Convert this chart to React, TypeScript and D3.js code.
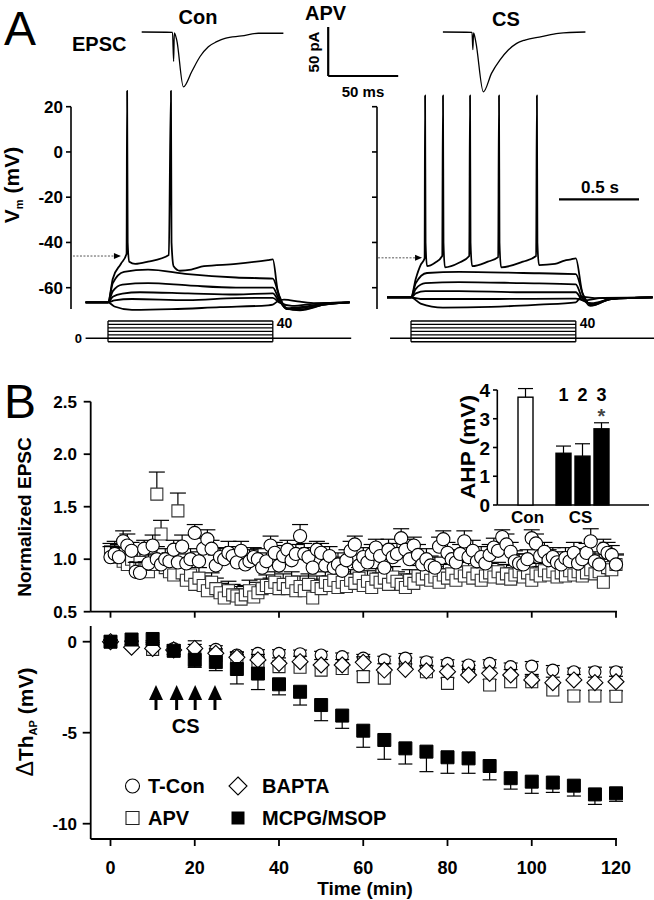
import React from "react";
import * as d3 from "d3";

const FONT = "'Liberation Sans', Arial, Helvetica, sans-serif";

// ---------- Panel A: EPSC traces (time ms, current pA relative to baseline) ----------
const epscConTime = [0, 22, 22.8, 23.3, 25, 29.8, 35.7, 41.7, 47.6, 53.6, 59.5, 71.4, 83.3, 101.2];
const epscConAmp = [0, -0.3, -30, -1, -8, -56, -40.5, -25, -15, -9.9, -6.4, -4, -1.3, -1.3];
const epscCsTime = [0, 20.8, 21.4, 21.9, 23.5, 28.9, 34.8, 40.8, 46.7, 52.7, 58.6, 70.5, 82.4, 101.8];
const epscCsAmp = [0, -0.3, -18, -1, -10, -61, -42, -28.5, -18.4, -11.6, -8.2, -4.8, -1.3, 0];

// ---------- Panel A: membrane potential traces [time ms, mV] ----------
const vmTicks = [20, 0, -20, -40, -60];
const conTraces: number[][][] = [
  [[-140, -66.5], [0, -66.5], [40, -68.3], [150, -69.8], [400, -69.5], [700, -68.6], [1000, -67.8], [1030, -67.5], [1060, -66], [1100, -65.3], [1200, -66.2], [1300, -66.8], [1510, -66.5]],
  [[-140, -66.5], [0, -66.5], [40, -65.6], [150, -65], [500, -65.5], [800, -64.6], [1030, -64.5], [1070, -66.5], [1150, -68], [1300, -67], [1510, -66.5]],
  [[-140, -66.5], [0, -66.5], [30, -64], [90, -62.6], [200, -62], [500, -62.5], [800, -63], [1030, -62.5], [1065, -65.5], [1120, -69], [1200, -68.6], [1350, -67], [1510, -66.5]],
  [[-140, -66.5], [0, -66.5], [30, -61.5], [90, -58.6], [250, -58], [500, -59], [800, -60], [1030, -60], [1065, -64.5], [1120, -69.5], [1200, -69], [1350, -67.5], [1510, -66.5]],
  [[-140, -66.5], [0, -66.5], [30, -58], [100, -53], [250, -52], [500, -54], [800, -55.5], [1030, -56], [1070, -63.5], [1120, -69.5], [1200, -69.6], [1350, -67.5], [1510, -66.5]],
  [[-140, -66.5], [0, -66.5], [30, -56], [80, -49.5], [116, -45], [119.5, 27], [123, -40], [133, -48.5], [170, -49.5], [250, -48.5], [380, -45.5], [393.5, 27], [397, -40], [410, -50.5], [450, -52.5], [520, -52], [600, -50.5], [800, -49.5], [1000, -47.8], [1030, -47.5], [1060, -61], [1110, -69], [1200, -70], [1350, -67.5], [1510, -66.5]],
];
const csTraces: number[][][] = [
  [[-150, -64.3], [0, -64.3], [60, -67], [200, -68.8], [500, -68.5], [800, -67.5], [1030, -66.5], [1065, -64], [1150, -64.6], [1510, -64.3]],
  [[-150, -64.3], [0, -64.3], [60, -65], [500, -65], [1030, -64.8], [1080, -65.6], [1200, -64.5], [1510, -64.3]],
  [[-150, -64.3], [0, -64.3], [30, -62.5], [90, -61.5], [300, -61.5], [700, -62], [1030, -62], [1070, -65.5], [1130, -66.8], [1250, -65], [1510, -64.3]],
  [[-150, -64.3], [0, -64.3], [30, -60.5], [90, -58], [300, -57.5], [700, -58], [1030, -58.5], [1070, -64.5], [1130, -67.2], [1250, -65], [1510, -64.3]],
  [[-150, -64.3], [0, -64.3], [30, -58], [100, -53.5], [300, -53], [700, -53.5], [1030, -54], [1075, -63], [1130, -67.8], [1250, -65], [1510, -64.3]],
  [[-150, -64.3], [0, -64.3], [30, -56], [60, -50], [85, -47], [88, 25], [91, -40], [100, -50.5], [150, -49], [195, -46], [200, 25], [203, -40], [212, -51], [300, -49], [364, -46], [369, 25], [372, -40], [382, -50.5], [480, -48.5], [545, -46.5], [550, 25], [553, -40], [563, -51], [700, -48.5], [782, -46], [787, 25], [790, -40], [800, -50], [900, -49.5], [960, -48], [1000, -47.5], [1030, -47], [1070, -62], [1120, -68], [1250, -65], [1510, -64.3]],
];
const thresholdArrowCon = [-219, 81, -46];
const thresholdArrowCs = [-206, 69, -46.8];
const stimLevels = [-8, 0, 8, 16, 24, 32, 40];
const stimDuration = 1030;

// ---------- Panel B top: normalized EPSC (per minute) ----------
const epscMinutes = d3.range(0, 121);
const tconEpsc = [
  1.02, 1.05, 1.02, 1.17, 1.13, 1.08, 0.88, 0.87, 1.10, 0.96,
  1.13, 1.00, 0.95, 1.00, 0.98, 1.09, 0.97, 1.12, 0.96, 1.00,
  1.25, 0.98, 1.10, 1.19, 1.10, 0.94, 1.02, 1.00, 1.06, 1.03,
  0.97, 1.08, 0.95, 0.98, 1.02, 1.00, 0.92, 0.98, 1.13, 1.06,
  0.94, 1.03, 1.09, 0.99, 1.05, 1.22, 1.05, 1.02, 0.92, 1.09,
  1.06, 0.94, 1.03, 0.92, 0.95, 0.89, 0.99, 1.08, 1.14, 0.94,
  1.02, 0.97, 1.05, 1.11, 1.03, 0.92, 1.09, 1.02, 1.05, 1.20,
  1.09, 1.00, 1.13, 1.04, 0.95, 1.00, 0.94, 0.92, 1.12, 1.19,
  1.06, 1.00, 0.97, 1.05, 1.17, 1.02, 1.08, 0.98, 1.02, 0.96,
  1.04, 1.11, 1.08, 1.21, 1.14, 1.07, 0.98, 0.96, 0.95, 1.00,
  1.20, 1.15, 1.03, 1.07, 0.99, 1.02, 0.97, 0.95, 1.01, 0.98,
  1.06, 0.96, 1.00, 1.06, 1.17, 0.98, 0.95, 1.10, 1.06, 1.04,
  0.95,
];
const tconEpscErr = [
  0.10, 0.12, 0.09, 0.10, 0.11, 0.08, 0.09, 0.10, 0.08, 0.09,
  0.10, 0.12, 0.09, 0.10, 0.08, 0.09, 0.10, 0.11, 0.09, 0.10,
  0.08, 0.09, 0.10, 0.09, 0.08, 0.10, 0.09, 0.10, 0.11, 0.09,
  0.10, 0.09, 0.10, 0.11, 0.09, 0.10, 0.09, 0.08, 0.09, 0.10,
  0.09, 0.10, 0.09, 0.10, 0.09, 0.11, 0.10, 0.09, 0.10, 0.08,
  0.09, 0.10, 0.09, 0.10, 0.11, 0.09, 0.10, 0.09, 0.08, 0.10,
  0.09, 0.10, 0.09, 0.08, 0.10, 0.09, 0.10, 0.09, 0.10, 0.09,
  0.10, 0.09, 0.08, 0.10, 0.09, 0.10, 0.09, 0.10, 0.09, 0.08,
  0.10, 0.09, 0.10, 0.09, 0.10, 0.09, 0.10, 0.09, 0.10, 0.09,
  0.10, 0.09, 0.08, 0.07, 0.10, 0.09, 0.10, 0.09, 0.10, 0.09,
  0.08, 0.09, 0.10, 0.09, 0.10, 0.09, 0.10, 0.09, 0.10, 0.09,
  0.10, 0.09, 0.10, 0.09, 0.12, 0.09, 0.10, 0.09, 0.10, 0.09,
  0.10,
];
const apvEpsc = [
  1.07, 1.02, 1.05, 0.98, 0.95, 1.00, 0.92, 0.97, 0.92, 0.88,
  0.95, 1.62, 1.24, 0.92, 0.88, 0.85, 1.46, 0.87, 0.80, 0.85,
  0.76, 0.82, 0.75, 0.70, 0.78, 0.72, 0.68, 0.63, 0.70, 0.66,
  0.65, 0.62, 0.66, 0.70, 0.64, 0.68, 0.72, 0.75, 0.73, 0.78,
  0.72, 0.76, 0.72, 0.78, 0.70, 0.74, 0.70, 0.76, 0.63, 0.74,
  0.72, 0.78, 0.75, 0.80, 0.73, 0.78, 0.74, 0.80, 0.77, 0.82,
  0.75, 0.79, 0.73, 0.81, 0.78, 0.82, 0.76, 0.83, 0.79, 0.76,
  0.73, 0.80, 0.77, 0.84, 0.81, 0.86, 0.80, 0.83, 0.78, 0.85,
  0.82, 0.86, 0.80, 0.87, 0.84, 0.88, 0.82, 0.86, 0.80, 0.84,
  0.87, 0.83, 0.88, 0.82, 0.86, 0.81, 0.85, 0.88, 0.83, 0.87,
  0.80, 0.86, 0.84, 0.89, 0.85, 0.88, 0.83, 0.87, 0.84, 0.89,
  0.85, 0.88, 0.84, 0.87, 0.90, 0.86, 0.88, 0.78, 0.92, 0.90,
  0.95,
];
const apvEpscErr = [
  0.08, 0.10, 0.09, 0.10, 0.09, 0.10, 0.09, 0.10, 0.09, 0.10,
  0.09, 0.21, 0.13, 0.10, 0.09, 0.10, 0.17, 0.10, 0.09, 0.10,
  0.09, 0.10, 0.09, 0.10, 0.09, 0.10, 0.09, 0.10, 0.09, 0.10,
  0.09, 0.10, 0.09, 0.10, 0.09, 0.10, 0.09, 0.10, 0.09, 0.10,
  0.09, 0.10, 0.09, 0.10, 0.09, 0.10, 0.09, 0.10, 0.09, 0.10,
  0.09, 0.10, 0.09, 0.10, 0.09, 0.10, 0.09, 0.10, 0.09, 0.10,
  0.09, 0.10, 0.09, 0.10, 0.09, 0.10, 0.09, 0.10, 0.09, 0.10,
  0.09, 0.10, 0.09, 0.10, 0.09, 0.10, 0.09, 0.10, 0.09, 0.10,
  0.09, 0.10, 0.09, 0.10, 0.09, 0.10, 0.09, 0.10, 0.09, 0.10,
  0.09, 0.10, 0.09, 0.10, 0.09, 0.10, 0.09, 0.10, 0.09, 0.10,
  0.09, 0.10, 0.09, 0.10, 0.09, 0.10, 0.09, 0.10, 0.09, 0.10,
  0.09, 0.10, 0.09, 0.10, 0.09, 0.10, 0.09, 0.10, 0.09, 0.10,
  0.09,
];
const epscTicks = [0.5, 1.0, 1.5, 2.0, 2.5];

// ---------- Panel B inset: AHP ----------
const ahpSlots = ["Con", "gap", "1", "2", "3"];
const ahpGroups = ["Con", "1", "2", "3"];
const ahpValues = [3.75, 1.8, 1.7, 2.65];
const ahpErr = [0.3, 0.25, 0.43, 0.21];
const ahpTicks = [0, 1, 2, 3, 4];

// ---------- Panel B bottom: change in AP threshold (every 5 min) ----------
const thTime = [0, 5, 10, 15, 20, 25, 30, 35, 40, 45, 50, 55, 60, 65, 70, 75, 80, 85, 90, 95, 100, 105, 110, 115, 120];
const tconTh = [0, -0.05, -0.2, -0.37, -0.4, -0.42, -0.73, -0.64, -0.64, -0.66, -0.73, -0.82, -0.9, -1.0, -0.9, -1.1, -1.19, -1.28, -1.19, -1.37, -1.34, -1.56, -1.65, -1.65, -1.65];
const tconThErr = [0.1, 0.1, 0.15, 0.2, 0.25, 0.2, 0.15, 0.2, 0.2, 0.2, 0.2, 0.2, 0.2, 0.2, 0.25, 0.25, 0.2, 0.2, 0.2, 0.2, 0.25, 0.25, 0.2, 0.25, 0.25];
const baptaTh = [0, -0.3, -0.37, -0.45, -0.37, -0.64, -0.86, -1.0, -1.19, -1.1, -1.28, -1.28, -1.13, -1.56, -1.52, -1.6, -1.65, -1.83, -1.74, -1.83, -2.1, -2.25, -2.1, -2.25, -2.2];
const baptaThErr = [0.1, 0.15, 0.2, 0.2, 0.42, 0.25, 0.3, 0.3, 0.3, 0.3, 0.3, 0.3, 0.3, 0.35, 0.3, 0.3, 0.3, 0.3, 0.3, 0.3, 0.3, 0.3, 0.3, 0.3, 0.3];
const apvTh = [0, -0.1, -0.42, -0.5, -0.6, -0.75, -0.9, -1.1, -1.37, -1.4, -1.56, -1.47, -1.92, -2.0, -1.2, -1.65, -2.29, -1.6, -2.38, -2.2, -2.2, -2.65, -2.98, -2.98, -3.0];
const apvThErr = [0.1, 0.1, 0.15, 0.2, 0.2, 0.2, 0.2, 0.25, 0.25, 0.25, 0.25, 0.25, 0.3, 0.3, 0.3, 0.3, 0.3, 0.3, 0.3, 0.3, 0.3, 0.3, 0.3, 0.3, 0.3];
const mcpgTh = [0, 0.12, 0.15, -0.5, -1.0, -1.12, -1.5, -1.75, -2.34, -2.75, -3.48, -4.06, -4.89, -5.4, -5.86, -6.04, -6.35, -6.41, -6.83, -7.5, -7.69, -7.74, -7.91, -8.39, -8.33];
const mcpgThErr = [0.05, 0.1, 0.1, 0.2, 0.41, 0.47, 0.82, 0.88, 0.58, 0.73, 0.86, 0.7, 0.91, 1.06, 0.86, 1.1, 0.88, 0.82, 0.76, 0.6, 0.64, 0.54, 0.57, 0.55, 0.44];
const thTicks = [0, -5, -10];
const timeTicks = [0, 20, 40, 60, 80, 100, 120];
const csStimTimes = [10.8, 15.7, 20.1, 24.8];

const T = { fontFamily: FONT, fontWeight: 700 } as const;

function ErrBar({ x, y0, y1, hw }: { x: number; y0: number; y1: number; hw: number }) {
  return (
    <g stroke="#000" strokeWidth={1.2}>
      <line x1={x} x2={x} y1={y0} y2={y1} />
      <line x1={x - hw} x2={x + hw} y1={y1} y2={y1} />
    </g>
  );
}

export default function App() {
  // Panel A scales
  const yA = d3.scaleLinear().domain([-60, 20]).range([287.7, 106.7]);
  const xAL = d3.scaleLinear().domain([0, 1000]).range([108, 268]);
  const xAR = d3.scaleLinear().domain([0, 1000]).range([411, 571]);
  const yStim = d3.scaleLinear().domain([0, 40]).range([338.3, 321]);
  const yE = d3.scaleLinear().domain([0, -50]).range([32, 81]);
  const xEcon = d3.scaleLinear().domain([0, 100]).range([141.7, 281.7]);
  const xEcs = d3.scaleLinear().domain([0, 100]).range([442.9, 582.9]);

  // Panel B scales
  const xB = d3.scaleLinear().domain([0, 120]).range([110.5, 616]);
  const yTop = d3.scaleLinear().domain([0.5, 2.5]).range([611.7, 401.7]);
  const yBot = d3.scaleLinear().domain([-10, 0]).range([823.7, 641.7]);
  const xIn = d3.scaleBand<string>().domain(ahpSlots).range([516, 611]);
  const yIn = d3.scaleLinear().domain([0, 4]).range([505, 390]);

  const vmLine = (xs: d3.ScaleLinear<number, number>) =>
    d3.line<number[]>().x((d) => xs(d[0])).y((d) => yA(d[1])).curve(d3.curveMonotoneX);
  const epscLine = (xs: d3.ScaleLinear<number, number>, ts: number[], as: number[]) =>
    d3.line<number>().x((_, i) => xs(ts[i])).y((a) => yE(a)).curve(d3.curveMonotoneX)(as) || "";

  const sq = (s: number) => d3.symbol().type(d3.symbolSquare).size(s * s)() || "";
  const dia = (h: number) => d3.symbol().type(d3.symbolDiamond2).size((h / 0.62625) ** 2)() || "";

  const axisX = 90.7;

  const stimBox = (xs: d3.ScaleLinear<number, number>) => (
    <g stroke="#000" strokeWidth={1.3} fill="none">
      {stimLevels.map((lv) => (
        <line key={lv} x1={xs(0)} x2={xs(stimDuration)} y1={yStim(lv)} y2={yStim(lv)} />
      ))}
      <line x1={xs(0)} x2={xs(0)} y1={yStim(d3.min(stimLevels)!)} y2={yStim(d3.max(stimLevels)!)} />
      <line x1={xs(stimDuration)} x2={xs(stimDuration)} y1={yStim(d3.min(stimLevels)!)} y2={yStim(d3.max(stimLevels)!)} />
    </g>
  );

  const dottedArrow = (xs: d3.ScaleLinear<number, number>, a: number[]) => (
    <g>
      <line x1={xs(a[0])} x2={xs(a[1]) - 5} y1={yA(a[2])} y2={yA(a[2])} stroke="#555" strokeWidth={1} strokeDasharray="2,1.5" />
      <path d={`M${xs(a[1])},${yA(a[2])}l-7,-3v6z`} fill="#000" />
    </g>
  );

  return (
    <div style={{ position: "absolute", left: 0, top: 0 }}>
      <svg width={654} height={900} viewBox="0 0 654 900" style={{ display: "block", background: "#fff" }}>
        {/* ===== Panel A ===== */}
        <text x={4} y={45} fontFamily={FONT} fontSize={48}>A</text>
        <text x={72} y={51} {...T} fontSize={20}>EPSC</text>
        <text x={198} y={24} {...T} fontSize={20} textAnchor="middle">Con</text>
        <text x={305} y={20} {...T} fontSize={20}>APV</text>
        <text x={506} y={26} {...T} fontSize={20} textAnchor="middle">CS</text>

        <path d={epscLine(xEcon, epscConTime, epscConAmp)} fill="none" stroke="#000" strokeWidth={1.3} />
        <path d={epscLine(xEcs, epscCsTime, epscCsAmp)} fill="none" stroke="#000" strokeWidth={1.3} />

        {/* EPSC scale bar: 50 pA, 50 ms */}
        <g stroke="#000" strokeWidth={2.2} fill="none">
          <line x1={xEcon(0) + 186.5} x2={xEcon(0) + 186.5} y1={yE(0) - 5} y2={yE(-50) - 5} />
          <line x1={xEcon(0) + 186.5} x2={xEcon(50) + 186.5} y1={yE(-50) - 5} y2={yE(-50) - 5} />
        </g>
        <text transform="translate(319,52) rotate(-90)" {...T} fontSize={15} textAnchor="middle">50 pA</text>
        <text x={363} y={97} {...T} fontSize={15} textAnchor="middle">50 ms</text>

        {/* Vm axes */}
        <g stroke="#000" strokeWidth={1.6}>
          <line x1={71} x2={71} y1={yA(20)} y2={309} />
          {vmTicks.map((t) => (
            <line key={t} x1={66} x2={71} y1={yA(t)} y2={yA(t)} />
          ))}
          <line x1={377} x2={377} y1={yA(20)} y2={309} />
          {vmTicks.map((t) => (
            <line key={"r" + t} x1={372} x2={377} y1={yA(t)} y2={yA(t)} />
          ))}
        </g>
        {vmTicks.map((t) => (
          <text key={t} x={63} y={yA(t) + 6} {...T} fontSize={17} textAnchor="end">{t}</text>
        ))}
        <text transform={`translate(19,${185}) rotate(-90)`} {...T} fontSize={21} textAnchor="middle">
          V<tspan fontSize={11} dy={4}>m</tspan><tspan dy={-4}> (mV)</tspan>
        </text>

        {/* Vm traces */}
        <g fill="none" stroke="#000" strokeWidth={1.8} strokeLinejoin="round">
          {conTraces.map((tr, i) => (
            <path key={i} d={vmLine(xAL)(tr) || ""} />
          ))}
          {csTraces.map((tr, i) => (
            <path key={"c" + i} d={vmLine(xAR)(tr) || ""} />
          ))}
        </g>
        {dottedArrow(xAL, thresholdArrowCon)}
        {dottedArrow(xAR, thresholdArrowCs)}

        {/* 0.5 s scale bar */}
        <line x1={559} x2={559 + (xAR(500) - xAR(0))} y1={199.3} y2={199.3} stroke="#000" strokeWidth={2.2} />
        <text x={600} y={193} {...T} fontSize={17} textAnchor="middle">0.5 s</text>

        {/* current steps */}
        <line x1={xAL(-140)} x2={xAL(1520)} y1={yStim(0)} y2={yStim(0)} stroke="#000" strokeWidth={1.6} />
        <line x1={xAR(-131)} x2={654} y1={yStim(0)} y2={yStim(0)} stroke="#000" strokeWidth={1.6} />
        {stimBox(xAL)}
        {stimBox(xAR)}
        <text x={82} y={343} {...T} fontSize={13} textAnchor="end">0</text>
        <text x={xAL(stimDuration) + 4} y={328} {...T} fontSize={14}>40</text>
        <text x={xAR(stimDuration) + 4} y={328} {...T} fontSize={14}>40</text>

        {/* ===== Panel B ===== */}
        <text x={4} y={418} fontFamily={FONT} fontSize={48}>B</text>

        {/* top axes */}
        <g stroke="#000" strokeWidth={1.8}>
          <line x1={axisX} x2={axisX} y1={yTop(2.5)} y2={yTop(0.5)} />
          <line x1={axisX} x2={617} y1={yTop(0.5)} y2={yTop(0.5)} />
          {epscTicks.map((t) => (
            <line key={t} x1={axisX - 7} x2={axisX} y1={yTop(t)} y2={yTop(t)} />
          ))}
          {timeTicks.map((t) => (
            <line key={t} x1={xB(t)} x2={xB(t)} y1={yTop(0.5)} y2={yTop(0.5) + 6} />
          ))}
        </g>
        {epscTicks.map((t) => (
          <text key={t} x={77} y={yTop(t) + 6} {...T} fontSize={17} textAnchor="end">{t.toFixed(1)}</text>
        ))}
        <text transform="translate(31,517) rotate(-90)" {...T} fontSize={19} textAnchor="middle">Normalized EPSC</text>

        {/* APV squares (behind) */}
        {epscMinutes.map((m, i) => (
          <ErrBar key={"ae" + m} x={xB(m)} y0={yTop(apvEpsc[i])} y1={yTop(apvEpsc[i] + apvEpscErr[i])} hw={8} />
        ))}
        {epscMinutes.map((m, i) => (
          <path key={"as" + m} d={sq(12)} transform={`translate(${xB(m)},${yTop(apvEpsc[i])})`} fill="#fff" stroke="#333" strokeWidth={1.1} />
        ))}
        {/* T-Con circles */}
        {epscMinutes.map((m, i) => (
          <ErrBar key={"ce" + m} x={xB(m)} y0={yTop(tconEpsc[i])} y1={yTop(tconEpsc[i] + tconEpscErr[i])} hw={8} />
        ))}
        {epscMinutes.map((m, i) => (
          <circle key={"cc" + m} cx={xB(m)} cy={yTop(tconEpsc[i])} r={6.6} fill="#fff" stroke="#000" strokeWidth={1.1} />
        ))}

        {/* inset */}
        <g stroke="#000" strokeWidth={1.6}>
          <line x1={497.3} x2={497.3} y1={yIn(4)} y2={yIn(0)} />
          <line x1={497.3} x2={649} y1={yIn(0)} y2={yIn(0)} />
          {ahpTicks.map((t) => (
            <line key={t} x1={493} x2={497.3} y1={yIn(t)} y2={yIn(t)} />
          ))}
        </g>
        {ahpTicks.map((t) => (
          <text key={t} x={490} y={yIn(t) + 7} {...T} fontSize={19} textAnchor="end">{t}</text>
        ))}
        <text transform="translate(475,447) rotate(-90)" {...T} fontSize={21} textAnchor="middle" textLength={104} lengthAdjust="spacingAndGlyphs">AHP (mV)</text>
        {ahpGroups.map((g, i) => {
          const cx = xIn(g)! + xIn.bandwidth() / 2;
          return (
            <g key={g}>
              <ErrBar x={cx} y0={yIn(ahpValues[i])} y1={yIn(ahpValues[i] + ahpErr[i])} hw={7.5} />
              <rect x={cx - 7.5} y={yIn(ahpValues[i])} width={15} height={yIn(0) - yIn(ahpValues[i])} fill={i === 0 ? "#fff" : "#000"} stroke="#000" strokeWidth={1.4} />
            </g>
          );
        })}
        {ahpGroups.slice(1).map((g) => (
          <text key={g} x={xIn(g)! + xIn.bandwidth() / 2} y={401} {...T} fontSize={18} textAnchor="middle">{g}</text>
        ))}
        <text x={xIn("3")! + xIn.bandwidth() / 2} y={423} {...T} fontSize={20} fill="#444" textAnchor="middle">*</text>
        <text x={xIn("Con")! + xIn.bandwidth() / 2 + 2} y={523} {...T} fontSize={17} textAnchor="middle">Con</text>
        <text x={xIn("2")! + xIn.bandwidth() / 2 - 2} y={523} {...T} fontSize={17} textAnchor="middle">CS</text>

        {/* bottom axes */}
        <g stroke="#000" strokeWidth={1.8}>
          <line x1={axisX} x2={axisX} y1={626} y2={839} />
          <line x1={axisX} x2={617} y1={839} y2={839} />
          {thTicks.map((t) => (
            <line key={t} x1={axisX - 8} x2={axisX} y1={yBot(t)} y2={yBot(t)} />
          ))}
          {timeTicks.map((t) => (
            <line key={t} x1={xB(t)} x2={xB(t)} y1={839} y2={846} />
          ))}
        </g>
        {thTicks.map((t) => (
          <text key={t} x={77} y={yBot(t) + 6} {...T} fontSize={17} textAnchor="end">{t}</text>
        ))}
        {timeTicks.map((t) => (
          <text key={t} x={xB(t)} y={874} {...T} fontSize={18} textAnchor="middle">{t}</text>
        ))}
        <text x={365} y={895} {...T} fontSize={19} textAnchor="middle">Time (min)</text>
        <text transform="translate(33,722) rotate(-90)" {...T} fontSize={21} textAnchor="middle">
          <tspan fontWeight={400} fontSize={23}>Δ</tspan>Th<tspan fontSize={11} dy={4}>AP</tspan><tspan dy={-4}> (mV)</tspan>
        </text>

        {/* APV open squares */}
        {thTime.map((m, i) => (
          <ErrBar key={"pe" + m} x={xB(m)} y0={yBot(apvTh[i])} y1={yBot(apvTh[i] + apvThErr[i])} hw={7} />
        ))}
        {thTime.map((m, i) => (
          <path key={"ps" + m} d={sq(12)} transform={`translate(${xB(m)},${yBot(apvTh[i])})`} fill="#fff" stroke="#222" strokeWidth={1.1} />
        ))}
        {/* T-Con circles */}
        {thTime.map((m, i) => (
          <ErrBar key={"te" + m} x={xB(m)} y0={yBot(tconTh[i])} y1={yBot(tconTh[i] + tconThErr[i])} hw={7} />
        ))}
        {thTime.map((m, i) => (
          <circle key={"tc" + m} cx={xB(m)} cy={yBot(tconTh[i])} r={6} fill="#fff" stroke="#000" strokeWidth={1.1} />
        ))}
        {/* BAPTA diamonds */}
        {thTime.map((m, i) => (
          <ErrBar key={"be" + m} x={xB(m)} y0={yBot(baptaTh[i])} y1={yBot(baptaTh[i] + baptaThErr[i])} hw={7} />
        ))}
        {thTime.map((m, i) => (
          <path key={"bd" + m} d={dia(8)} transform={`translate(${xB(m)},${yBot(baptaTh[i])})`} fill="#fff" stroke="#000" strokeWidth={1.1} />
        ))}
        {/* MCPG/MSOP filled squares */}
        {thTime.map((m, i) => (
          <ErrBar key={"me" + m} x={xB(m)} y0={yBot(mcpgTh[i])} y1={yBot(mcpgTh[i] - mcpgThErr[i])} hw={7} />
        ))}
        {thTime.map((m, i) => (
          <path key={"ms" + m} d={sq(13)} transform={`translate(${xB(m)},${yBot(mcpgTh[i])})`} fill="#000" stroke="#000" strokeWidth={1} />
        ))}

        {/* CS arrows */}
        {csStimTimes.map((t) => (
          <g key={t}>
            <path d={`M${xB(t)},685l-7,15h14z`} fill="#000" />
            <line x1={xB(t)} x2={xB(t)} y1={699} y2={710} stroke="#000" strokeWidth={3} />
          </g>
        ))}
        <text x={xB(d3.mean(csStimTimes)!)} y={733} {...T} fontSize={20} textAnchor="middle">CS</text>

        {/* legend */}
        <circle cx={132.5} cy={786} r={7} fill="#fff" stroke="#000" strokeWidth={1.1} />
        <text x={148} y={793} {...T} fontSize={20}>T-Con</text>
        <path d={dia(9)} transform="translate(238,786)" fill="#fff" stroke="#000" strokeWidth={1.1} />
        <text x={262} y={793} {...T} fontSize={20}>BAPTA</text>
        <path d={sq(13)} transform="translate(132.5,818)" fill="#fff" stroke="#222" strokeWidth={1.1} />
        <text x={148} y={825} {...T} fontSize={20}>APV</text>
        <path d={sq(13)} transform="translate(238,818)" fill="#000" />
        <text x={262} y={825} {...T} fontSize={20}>MCPG/MSOP</text>
      </svg>
    </div>
  );
}
